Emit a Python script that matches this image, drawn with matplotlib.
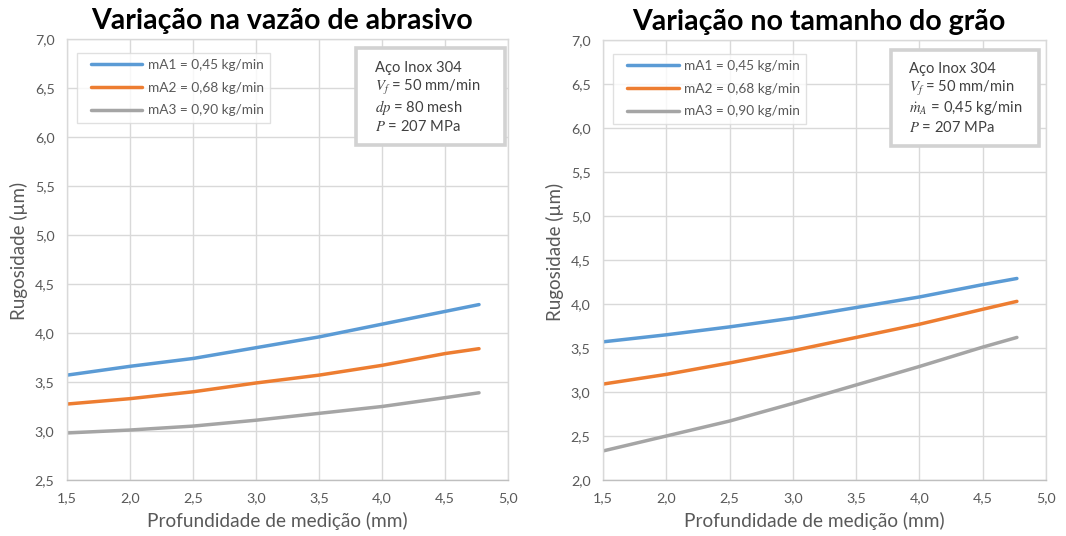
import matplotlib
matplotlib.use("Agg")
import numpy as np
import matplotlib.pyplot as plt
from matplotlib.lines import Line2D
from matplotlib.patches import Rectangle
from matplotlib.legend_handler import HandlerLine2D

plt.rcParams['font.family'] = ['Lato', 'DejaVu Sans']
plt.rcParams['mathtext.fontset'] = 'stix'

# ---- data ----
x_pts = [1.5, 2.0, 2.5, 3.0, 3.5, 4.0, 4.5, 4.77]

left_mA1 = [3.57, 3.66, 3.74, 3.85, 3.96, 4.09, 4.22, 4.29]
left_mA2 = [3.275, 3.33, 3.40, 3.49, 3.57, 3.67, 3.79, 3.84]
left_mA3 = [2.98, 3.01, 3.05, 3.11, 3.18, 3.25, 3.34, 3.39]

right_mA1 = [3.57, 3.65, 3.74, 3.84, 3.96, 4.08, 4.22, 4.29]
right_mA2 = [3.09, 3.20, 3.33, 3.47, 3.62, 3.77, 3.94, 4.03]
right_mA3 = [2.33, 2.50, 2.67, 2.87, 3.08, 3.29, 3.51, 3.62]

series_labels = ["mA1 = 0,45 kg/min", "mA2 = 0,68 kg/min", "mA3 = 0,90 kg/min"]
colors = ["#5B9BD5", "#ED7D31", "#A5A5A5"]

x_ticks = [1.5, 2.0, 2.5, 3.0, 3.5, 4.0, 4.5, 5.0]
x_ticklabels = ["1,5", "2,0", "2,5", "3,0", "3,5", "4,0", "4,5", "5,0"]
left_y_ticks = [2.5, 3.0, 3.5, 4.0, 4.5, 5.0, 5.5, 6.0, 6.5, 7.0]
left_y_ticklabels = ["2,5", "3,0", "3,5", "4,0", "4,5", "5,0", "5,5", "6,0", "6,5", "7,0"]
right_y_ticks = [2.0, 2.5, 3.0, 3.5, 4.0, 4.5, 5.0, 5.5, 6.0, 6.5, 7.0]
right_y_ticklabels = ["2,0", "2,5", "3,0", "3,5", "4,0", "4,5", "5,0", "5,5", "6,0", "6,5", "7,0"]

titles = ["Variação na vazão de abrasivo", "Variação no tamanho do grão"]
xlabel = "Profundidade de medição (mm)"
ylabel = "Rugosidade (µm)"

left_box = ["Aço Inox 304", "$V_f$ = 50 mm/min", "$dp$ = 80 mesh", "$P$ = 207 MPa"]
right_box = ["Aço Inox 304", "$V_f$ = 50 mm/min", "$\\dot{m}_A$ = 0,45 kg/min", "$P$ = 207 MPa"]

fig = plt.figure(figsize=(10.66, 5.36), dpi=100)
W, H = 1066, 536

def px_axes(x0, x1, ytop, ybot):
    return fig.add_axes([x0 / W, (H - ybot) / H, (x1 - x0) / W, (ybot - ytop) / H])

ax1 = px_axes(67, 508, 39, 480)
ax2 = px_axes(603, 1046, 40, 480)

grid_c = "#D9D9D9"
text_c = "#595959"


class ShortHandler(HandlerLine2D):
    def create_artists(self, legend, orig_handle, xdescent, ydescent,
                       width, height, fontsize, trans):
        arts = super().create_artists(legend, orig_handle, xdescent, ydescent,
                                      width, height, fontsize, trans)
        for a in arts:
            xd = np.asarray(a.get_xdata(), dtype=float)
            if len(xd) >= 2:
                a.set_xdata(np.linspace(xd[0] + 0.135 * (xd[-1] - xd[0]), xd[-1], len(xd)))
        return arts


def style(ax, yticks, yticklabels, ylim, data, title, boxlines, box_rect, text_xy,
          line_dy, xlab_xy, ylab_xy):
    handles = []
    for ys, c, lab in zip(data, colors, series_labels):
        h, = ax.plot(x_pts, ys, color=c, lw=2.5, label=lab, solid_capstyle='round')
        handles.append(h)
    ax.set_xlim(1.5, 5.0)
    ax.set_ylim(*ylim)
    ax.set_xticks(x_ticks)
    ax.set_xticklabels(x_ticklabels)
    ax.set_yticks(yticks)
    ax.set_yticklabels(yticklabels)
    ax.grid(True, color=grid_c, lw=1.0)
    ax.set_axisbelow(True)
    for s in ax.spines.values():
        s.set_color(grid_c)
        s.set_linewidth(1.0)
    ax.spines['bottom'].set_color("#BFBFBF")
    ax.tick_params(length=0, labelsize=10.3, labelcolor=text_c, pad=9)
    ax.set_xlabel(xlabel, fontsize=13.7, color=text_c)
    ax.xaxis.set_label_coords(*xlab_xy)
    ax.set_ylabel(ylabel, fontsize=13.5, color=text_c)
    ax.yaxis.set_label_coords(*ylab_xy)
    ax.set_title(title, fontsize=20.5, fontweight='bold', color='black', x=0.487, pad=7)
    leg = ax.legend(handles=handles, loc='upper left', bbox_to_anchor=(0.023, 0.968),
                    borderaxespad=0, fontsize=9.8,
                    frameon=True, fancybox=False, handlelength=4.35, labelspacing=0.78,
                    borderpad=0.45, handletextpad=0.4, labelcolor=text_c,
                    handler_map={Line2D: ShortHandler()})
    leg.get_frame().set_edgecolor(grid_c)
    leg.get_frame().set_linewidth(1.0)
    x0, x1, yb, yt = box_rect
    ax.add_patch(Rectangle((x0, yb), x1 - x0, yt - yb, transform=ax.transAxes,
                           fc='white', ec='#D2D2D2', lw=2.6, zorder=5))
    for i, t in enumerate(boxlines):
        ax.text(text_xy[0], text_xy[1] - i * line_dy, t, transform=ax.transAxes,
                fontsize=10.6, color="#404040", va='center', ha='left', zorder=6)

style(ax1, left_y_ticks, left_y_ticklabels, (2.5, 7.0),
      [left_mA1, left_mA2, left_mA3], titles[0], left_box,
      (0.655, 0.993, 0.760, 0.980), (0.698, 0.934), 19.6 / 441,
      (0.478, -0.0726), (-0.088, 0.519))
style(ax2, right_y_ticks, right_y_ticklabels, (2.0, 7.0),
      [right_mA1, right_mA2, right_mA3], titles[1], right_box,
      (0.650, 0.984, 0.759, 0.977), (0.691, 0.934), 19.6 / 440,
      (0.476, -0.0727), (-0.088, 0.519))

fig.savefig("out.png", dpi=100)
